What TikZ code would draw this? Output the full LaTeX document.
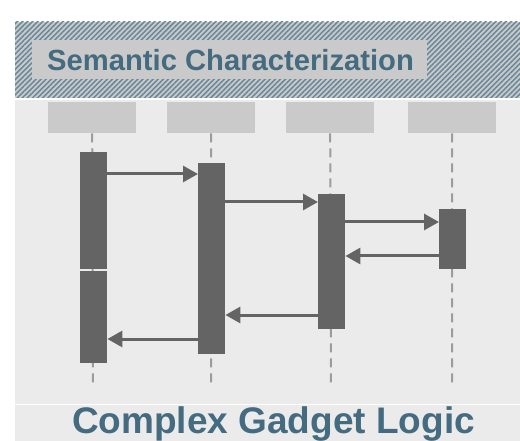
\documentclass[tikz,border=0pt]{standalone}
\usepackage{fontspec}
\setmainfont{Liberation Sans}
\usetikzlibrary{arrows.meta,patterns.meta}
\definecolor{bggray}{HTML}{EBEBEB}
\definecolor{hdrgray}{HTML}{CACACA}
\definecolor{hatchbg}{HTML}{CBCBCB}
\definecolor{hatchfg}{HTML}{6A8A9C}
\definecolor{bardark}{HTML}{646464}
\definecolor{lifegray}{HTML}{9C9C9C}
\definecolor{titleblue}{HTML}{456B80}
\begin{document}
\begin{tikzpicture}[x=1pt,y=-1pt,
  header/.style={fill=hdrgray,draw=none,minimum width=88pt,minimum height=31pt,inner sep=0pt,anchor=north west},
  bar/.style={fill=bardark,draw=none,minimum width=27pt,inner sep=0pt,anchor=north west},
  life/.style={draw=lifegray,line width=2pt,dash pattern=on 9pt off 6pt},
  msg/.style={draw=bardark,line width=3pt,-{Triangle[length=15pt,width=16pt]}},
  titletext/.style={text=titleblue,font=\bfseries,inner sep=0pt}]
\useasboundingbox (0,0) rectangle (520,441);
\fill[white] (0,0) rectangle (520,441);
% hatched band
\fill[hatchbg] (15,22) rectangle (520,98);
\fill[pattern={Lines[angle=45,distance=3.6pt,line width=1.6pt]},pattern color=hatchfg] (15,22) rectangle (520,98);
% gray body
\fill[bggray] (15,100) rectangle (520,441);
\draw[white,line width=1pt] (15,404.5) -- (520,404.5);
% title box
\node[fill=hdrgray,minimum width=395pt,minimum height=39pt,inner sep=0pt,anchor=north west] (tbox) at (32,40) {};
\node[titletext,font=\bfseries\fontsize{29.2}{30}\selectfont,anchor=base west] (title) at (47,71) {Semantic Characterization};
% headers
\node[header] (h1) at (48,102) {};
\node[header] (h2) at (167,102) {};
\node[header] (h3) at (286,102) {};
\node[header] (h4) at (408,102) {};
% lifeline ends
\coordinate (e1) at (93,384);
\coordinate (e2) at (211,384);
\coordinate (e3) at (331,384);
\coordinate (e4) at (452,384);
\draw[life] (h1.south) -- (e1);
\draw[life] (h2.south) -- (e2);
\draw[life] (h3.south) -- (e3);
\draw[life] (h4.south) -- (e4);
% activation bars
\node[bar,minimum height=117pt] (a1) at (80,152) {};
\node[bar,minimum height=92pt] (a2) at (80,271) {};
\node[bar,minimum height=191pt] (b) at (198,163) {};
\node[bar,minimum height=135pt] (c) at (318,194) {};
\node[bar,minimum height=60pt] (d) at (439,209) {};
% message levels
\coordinate (y1) at (0,174);
\coordinate (y2) at (0,202);
\coordinate (y3) at (0,222);
\coordinate (y4) at (0,256);
\coordinate (y5) at (0,315);
\coordinate (y6) at (0,339);
\draw[msg] (a1.east |- y1) -- (b.west |- y1);
\draw[msg] (b.east |- y2) -- (c.west |- y2);
\draw[msg] (c.east |- y3) -- (d.west |- y3);
\draw[msg] (d.west |- y4) -- (c.east |- y4);
\draw[msg] (c.west |- y5) -- (b.east |- y5);
\draw[msg] (b.west |- y6) -- (a2.east |- y6);
% footer title
\node[titletext,font=\bfseries\fontsize{37}{38}\selectfont,anchor=base] (footer) at (273.5,433) {Complex Gadget Logic};
\end{tikzpicture}
\end{document}
